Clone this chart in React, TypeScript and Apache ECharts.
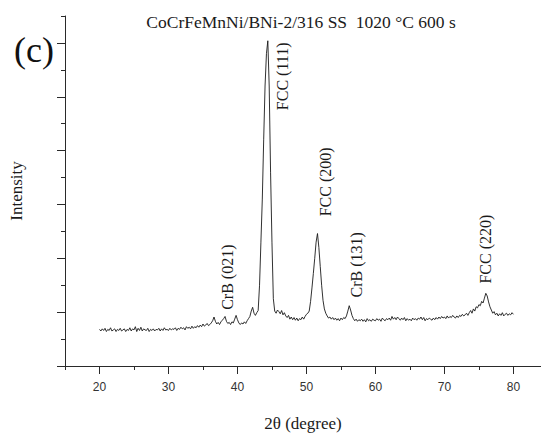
import React, { useEffect, useRef } from 'react';
import * as echarts from 'echarts';

// 2θ sampling grid (degrees)
const thetaStart = 20.0;
const thetaStep = 0.2;

const intensity: number[] = [
  // 20.0 – 21.8
  0.68, 0.65, 0.69, 0.66, 0.70, 0.64, 0.68, 0.66, 0.71, 0.65,
  // 22.0 – 23.8
  0.67, 0.69, 0.64, 0.68, 0.66, 0.70, 0.65, 0.67, 0.69, 0.64,
  // 24.0 – 25.8
  0.68, 0.66, 0.71, 0.65, 0.69, 0.67, 0.73, 0.64, 0.70, 0.66,
  // 26.0 – 27.8
  0.72, 0.65, 0.69, 0.67, 0.66, 0.70, 0.64, 0.68, 0.66, 0.69,
  // 28.0 – 29.8
  0.65, 0.68, 0.67, 0.70, 0.65, 0.69, 0.66, 0.71, 0.67, 0.68,
  // 30.0 – 31.8
  0.66, 0.70, 0.67, 0.69, 0.68, 0.71, 0.66, 0.70, 0.68, 0.72,
  // 32.0 – 33.8
  0.69, 0.71, 0.67, 0.73, 0.70, 0.72, 0.69, 0.74, 0.70, 0.73,
  // 34.0 – 35.8
  0.71, 0.75, 0.72, 0.76, 0.73, 0.78, 0.74, 0.76, 0.79, 0.75,
  // 36.0 – 37.8
  0.77, 0.80, 0.84, 0.91, 0.83, 0.78, 0.81, 0.77, 0.82, 0.85,
  // 38.0 – 39.8
  0.88, 0.92, 0.83, 0.79, 0.81, 0.77, 0.82, 0.80, 0.87, 0.94,
  // 40.0 – 41.8
  0.86, 0.80, 0.77, 0.80, 0.78, 0.82, 0.79, 0.84, 0.88, 0.92,
  // 42.0 – 43.8
  1.02, 1.09, 0.98, 0.94, 0.99, 1.03, 1.50, 2.30, 3.10, 4.20,
  // 44.0 – 45.8
  5.20, 5.80, 6.04, 5.20, 3.60, 2.30, 1.25, 1.02, 0.98, 1.04,
  // 46.0 – 47.8
  1.01, 0.97, 1.03, 0.95, 0.99, 0.93, 0.90, 0.94, 0.87, 0.91,
  // 48.0 – 49.8
  0.86, 0.90, 0.85, 0.89, 0.84, 0.88, 0.86, 0.91, 0.87, 0.92,
  // 50.0 – 51.8
  0.96, 0.98, 1.02, 1.20, 1.45, 1.72, 2.00, 2.30, 2.46, 2.20,
  // 52.0 – 53.8
  1.85, 1.50, 1.22, 1.06, 0.98, 0.93, 0.89, 0.91, 0.87, 0.90,
  // 54.0 – 55.8
  0.86, 0.89, 0.85, 0.88, 0.84, 0.89, 0.86, 0.90, 0.88, 0.93,
  // 56.0 – 57.8
  1.02, 1.12, 1.04, 0.94, 0.88, 0.84, 0.87, 0.83, 0.86, 0.84,
  // 58.0 – 59.8
  0.87, 0.83, 0.86, 0.82, 0.88, 0.84, 0.86, 0.83, 0.87, 0.85,
  // 60.0 – 61.8
  0.84, 0.88, 0.85, 0.87, 0.83, 0.89, 0.86, 0.84, 0.88, 0.86,
  // 62.0 – 63.8
  0.89, 0.85, 0.92, 0.87, 0.90, 0.86, 0.91, 0.88, 0.85, 0.89,
  // 64.0 – 65.8
  0.86, 0.90, 0.84, 0.88, 0.85, 0.87, 0.84, 0.89, 0.86, 0.88,
  // 66.0 – 67.8
  0.85, 0.89, 0.87, 0.91, 0.86, 0.90, 0.84, 0.88, 0.86, 0.89,
  // 68.0 – 69.8
  0.87, 0.85, 0.89, 0.86, 0.90, 0.87, 0.91, 0.88, 0.92, 0.89,
  // 70.0 – 71.8
  0.91, 0.88, 0.93, 0.89, 0.92, 0.90, 0.94, 0.91, 0.89, 0.93,
  // 72.0 – 73.8
  0.90, 0.94, 0.92, 0.96, 0.93, 0.95, 0.98, 0.94, 0.99, 1.03,
  // 74.0 – 75.8
  0.98, 1.06, 1.02, 1.10, 1.08, 1.14, 1.12, 1.20, 1.17, 1.26,
  // 76.0 – 77.8
  1.35, 1.30, 1.19, 1.10, 1.04, 0.98, 1.01, 0.95, 0.98, 0.93,
  // 78.0 – 79.8
  0.97, 0.94, 0.99, 0.93, 0.96, 0.98, 0.94, 0.97, 0.95, 0.99,
  // 80.0
  0.96,
];

const xMajorTicks = [20, 30, 40, 50, 60, 70, 80];
const xMinorTicks = [15, 25, 35, 45, 55, 65, 75];
const yMajorTicks = [0, 1, 2, 3, 4, 5, 6];
const yMinorTicks = [0.5, 1.5, 2.5, 3.5, 4.5, 5.5, 6.5];

const peakLabels = ['FCC (111)', 'FCC (200)', 'CrB (021)', 'CrB (131)', 'FCC (220)'];
const peakLabelTheta = [46.5, 52.7, 38.55, 57.2, 76.0];
const peakLabelLevel = [5.38, 3.42, 1.65, 1.88, 2.17];

const titleText = 'CoCrFeMnNi/BNi-2/316 SS  1020 °C 600 s';
const panelText = '(c)';
const xName = '2θ (degree)';
const yName = 'Intensity';

const SERIF = '"Liberation Serif", "Times New Roman", serif';
const SANS = '"Liberation Sans", Arial, sans-serif';
const AXIS_COLOR = '#2a2a2a';

export default function App() {
  const ref = useRef<HTMLDivElement>(null);

  useEffect(() => {
    if (!ref.current) return;
    const chart = echarts.init(ref.current, null, { renderer: 'svg' });
    const data = intensity.map((v, i) => [+(thetaStart + i * thetaStep).toFixed(1), v]);

    const xBase = { type: 'value', min: 15, max: 84, splitLine: { show: false } };
    const yBase = { type: 'value', min: 0, max: 6.5, splitLine: { show: false } };

    chart.setOption({
      animation: false,
      backgroundColor: '#ffffff',
      grid: { left: 64, right: 0, top: 16, bottom: 62, containLabel: false },
      xAxis: [
        {
          ...xBase,
          position: 'bottom',
          name: xName,
          nameLocation: 'middle',
          nameGap: 49,
          nameTextStyle: { fontFamily: SERIF, fontSize: 17, color: '#1a1a1a' },
          axisLine: { show: true, onZero: false, lineStyle: { color: AXIS_COLOR, width: 1 } },
          axisTick: { show: true, inside: false, length: 8, customValues: xMajorTicks, lineStyle: { color: AXIS_COLOR, width: 1 } },
          axisLabel: { show: true, customValues: xMajorTicks, margin: 15, fontFamily: SANS, fontSize: 12, color: '#333' },
        },
        {
          ...xBase,
          position: 'bottom',
          axisLine: { show: false, onZero: false },
          axisTick: { show: true, inside: false, length: 4, customValues: xMinorTicks, lineStyle: { color: AXIS_COLOR, width: 1 } },
          axisLabel: { show: false },
        },
      ],
      yAxis: [
        {
          ...yBase,
          position: 'left',
          name: yName,
          nameLocation: 'middle',
          nameGap: 40,
          nameTextStyle: { fontFamily: SERIF, fontSize: 17, color: '#1a1a1a' },
          axisLine: { show: true, onZero: false, lineStyle: { color: AXIS_COLOR, width: 1 } },
          axisTick: { show: true, inside: false, length: 8, customValues: yMajorTicks, lineStyle: { color: AXIS_COLOR, width: 1 } },
          axisLabel: { show: false },
        },
        {
          ...yBase,
          position: 'left',
          axisLine: { show: false, onZero: false },
          axisTick: { show: true, inside: false, length: 4, customValues: yMinorTicks, lineStyle: { color: AXIS_COLOR, width: 1 } },
          axisLabel: { show: false },
        },
      ],
      series: [
        {
          type: 'line',
          xAxisIndex: 0,
          yAxisIndex: 0,
          data,
          showSymbol: false,
          symbol: 'none',
          lineStyle: { color: '#1a1a1a', width: 0.9 },
          silent: true,
        },
      ],
    });

    const labelGraphics = peakLabels.map((text, i) => {
      const p = chart.convertToPixel({ xAxisIndex: 0, yAxisIndex: 0 }, [peakLabelTheta[i], peakLabelLevel[i]]) as number[];
      return {
        type: 'text',
        x: p[0],
        y: p[1],
        rotation: Math.PI / 2,
        style: {
          text,
          fontFamily: SERIF,
          fontSize: 16,
          fill: '#1a1a1a',
          align: 'center',
          verticalAlign: 'middle',
        },
      };
    });

    chart.setOption({
      graphic: [
        {
          type: 'text',
          x: 301,
          y: 22,
          style: { text: titleText, fontFamily: SERIF, fontSize: 17.5, fill: '#1a1a1a', align: 'center', verticalAlign: 'middle' },
        },
        {
          type: 'text',
          x: 34,
          y: 50,
          style: { text: panelText, fontFamily: SERIF, fontSize: 36, fill: '#111', align: 'center', verticalAlign: 'middle' },
        },
        ...labelGraphics,
      ],
    });

    return () => chart.dispose();
  }, []);

  return (
    <div
      ref={ref}
      style={{ position: 'fixed', left: 0, top: 0, width: 541, height: 437, background: '#fff' }}
    />
  );
}
